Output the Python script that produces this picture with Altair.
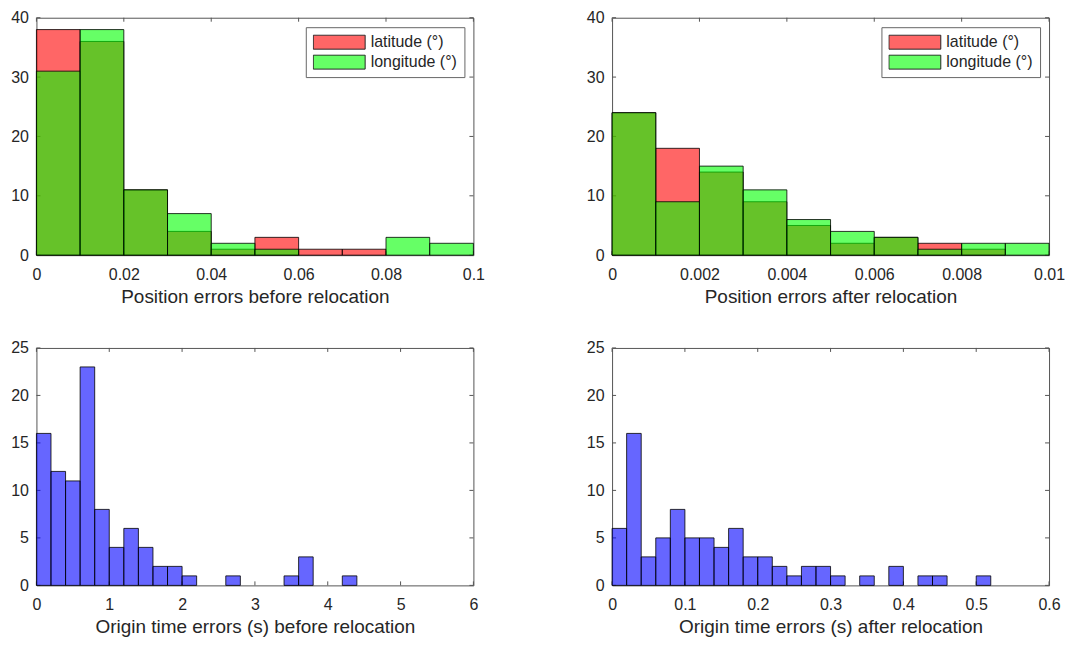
import altair as alt
import pandas as pd

FONT = "Liberation Sans"
TXT = "#262626"
FRAME = "#555555"
W, H = 438, 238

# ---- data ----
series_labels = ["latitude (°)", "longitude (°)"]

pos_before_starts = [0.0, 0.01, 0.02, 0.03, 0.04, 0.05, 0.06, 0.07, 0.08, 0.09]
pos_before_width = 0.01
pos_before_lat = [38, 36, 11, 4, 1, 3, 1, 1, 0, 0]
pos_before_lon = [31, 38, 11, 7, 2, 1, 0, 0, 3, 2]

pos_after_starts = [0.0, 0.001, 0.002, 0.003, 0.004, 0.005, 0.006, 0.007, 0.008, 0.009]
pos_after_width = 0.001
pos_after_lat = [24, 18, 14, 9, 5, 2, 3, 2, 1, 0]
pos_after_lon = [24, 9, 15, 11, 6, 4, 3, 1, 2, 2]

ot_before_starts = [0.0, 0.2, 0.4, 0.6, 0.8, 1.0, 1.2, 1.4, 1.6, 1.8, 2.0,
                    2.2, 2.4, 2.6, 2.8, 3.0, 3.2, 3.4, 3.6, 3.8, 4.0, 4.2]
ot_before_width = 0.2
ot_before_counts = [16, 12, 11, 23, 8, 4, 6, 4, 2, 2, 1,
                    0, 0, 1, 0, 0, 0, 1, 3, 0, 0, 1]

ot_after_starts = [0.0, 0.02, 0.04, 0.06, 0.08, 0.10, 0.12, 0.14, 0.16, 0.18,
                   0.20, 0.22, 0.24, 0.26, 0.28, 0.30, 0.32, 0.34, 0.36, 0.38,
                   0.40, 0.42, 0.44, 0.46, 0.48, 0.50]
ot_after_width = 0.02
ot_after_counts = [6, 16, 3, 5, 8, 5, 5, 4, 6, 3,
                   3, 2, 1, 2, 2, 1, 0, 1, 0, 2,
                   0, 1, 1, 0, 0, 1]

pos_before_xticks = [0, 0.02, 0.04, 0.06, 0.08, 0.1]
pos_after_xticks = [0, 0.002, 0.004, 0.006, 0.008, 0.01]
ot_before_xticks = [0, 1, 2, 3, 4, 5, 6]
ot_after_xticks = [0, 0.1, 0.2, 0.3, 0.4, 0.5, 0.6]
pos_yticks = [0, 10, 20, 30, 40]
ot_yticks = [0, 5, 10, 15, 20, 25]

titles = ["Position errors before relocation", "Position errors after relocation",
          "Origin time errors (s) before relocation", "Origin time errors (s) after relocation"]


def hist_df(starts, width, counts):
    rows = [{"x0": s, "x1": s + width, "count": c} for s, c in zip(starts, counts) if c > 0]
    return pd.DataFrame(rows)


LEGEND_PATH = "M-1,-0.27H1V0.27H-1Z"


def panel(hists, x_dom, x_ticks, y_dom, y_ticks, x_title, legend=False):
    xs = alt.Scale(domain=x_dom, nice=False, zero=False)
    ys = alt.Scale(domain=y_dom, nice=False, zero=False)
    xaxis = alt.Axis(values=x_ticks, format="~r", title=x_title, grid=False, ticks=False,
                     tickSize=0, domain=False, labelFlush=False, labelPadding=11,
                     titlePadding=5, labelOverlap=False)
    yaxis = alt.Axis(values=y_ticks, format="~r", title=None, grid=False, ticks=False,
                     tickSize=0, domain=False, labelPadding=8, labelOverlap=False)
    xt = pd.DataFrame({"v": x_ticks})
    yt = pd.DataFrame({"v": y_ticks})
    X = lambda f: alt.X(f, scale=xs, axis=xaxis)
    Y = lambda f: alt.Y(f, scale=ys, axis=yaxis)
    layers = [
        alt.Chart(xt).mark_rule(color=FRAME, strokeWidth=1).encode(
            x=X("v:Q"), y=alt.value(H), y2=alt.value(H - 4)),
        alt.Chart(xt).mark_rule(color=FRAME, strokeWidth=1).encode(
            x=X("v:Q"), y=alt.value(0), y2=alt.value(4)),
        alt.Chart(yt).mark_rule(color=FRAME, strokeWidth=1).encode(
            y=Y("v:Q"), x=alt.value(0), x2=alt.value(4)),
        alt.Chart(yt).mark_rule(color=FRAME, strokeWidth=1).encode(
            y=Y("v:Q"), x=alt.value(W), x2=alt.value(W - 4)),
    ]
    for df, color in hists:
        layers.append(
            alt.Chart(df).mark_bar(fill=color, fillOpacity=0.6, stroke="#000000",
                                   strokeWidth=0.8).encode(
                x=X("x0:Q"), x2="x1:Q", y=Y("count:Q"), y2=alt.datum(0)))
    if legend:
        layers.append(
            alt.Chart(pd.DataFrame({"series": series_labels}))
            .transform_filter("false")
            .mark_bar(stroke=TXT, strokeWidth=1)
            .encode(color=alt.Color(
                "series:N",
                scale=alt.Scale(domain=series_labels, range=["#ff6666", "#66ff66"]),
                legend=alt.Legend(
                    title=None, orient="none", legendX=270, legendY=9.5,
                    symbolType=LEGEND_PATH, symbolSize=2704, symbolStrokeColor=TXT,
                    symbolStrokeWidth=1, labelFont=FONT, labelFontSize=16,
                    labelColor=TXT, labelOffset=5, padding=7, strokeColor="#666666",
                    fillColor="white", rowPadding=4, clipHeight=16, symbolOpacity=1))))
    return alt.layer(*layers).properties(width=W, height=H)


p1 = panel([(hist_df(pos_before_starts, pos_before_width, pos_before_lat), "#ff0000"),
            (hist_df(pos_before_starts, pos_before_width, pos_before_lon), "#00ff00")],
           [0, 0.1], pos_before_xticks, [0, 40], pos_yticks, titles[0], legend=True)
p2 = panel([(hist_df(pos_after_starts, pos_after_width, pos_after_lat), "#ff0000"),
            (hist_df(pos_after_starts, pos_after_width, pos_after_lon), "#00ff00")],
           [0, 0.01], pos_after_xticks, [0, 40], pos_yticks, titles[1], legend=True)
p3 = panel([(hist_df(ot_before_starts, ot_before_width, ot_before_counts), "#0000ff")],
           [0, 6], ot_before_xticks, [0, 25], ot_yticks, titles[2])
p4 = panel([(hist_df(ot_after_starts, ot_after_width, ot_after_counts), "#0000ff")],
           [0, 0.6], ot_after_xticks, [0, 25], ot_yticks, titles[3])

chart = (
    alt.concat(p1, p2, p3, p4, columns=2, spacing={"row": 93, "column": 139}, bounds="flush")
    .resolve_scale(color="independent")
    .resolve_legend(color="independent")
    .properties(padding={"left": 1.5, "top": 0, "right": 0, "bottom": 0},
                background="white")
    .configure_view(stroke=FRAME, strokeWidth=1)
    .configure_axis(labelFont=FONT, titleFont=FONT, labelFontSize=16, titleFontSize=19,
                    labelColor=TXT, titleColor=TXT, titleFontWeight="normal")
)

chart.save("out.html", embed_options={"renderer": "svg", "actions": False})
